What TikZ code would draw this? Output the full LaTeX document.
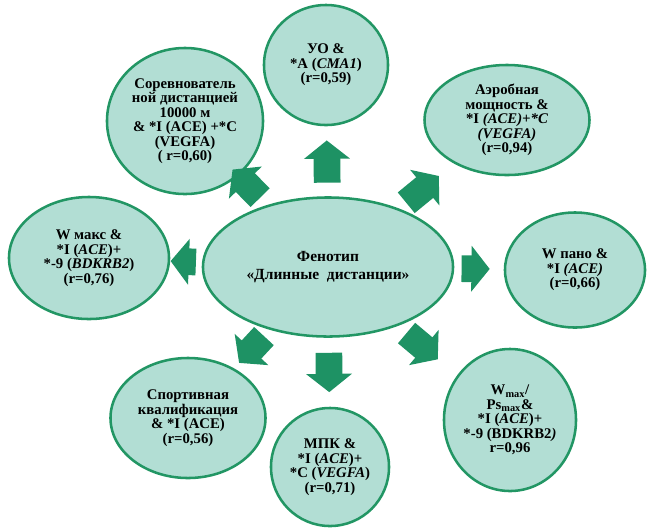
\documentclass[tikz,border=0pt]{standalone}
\usepackage{fontspec}
\setmainfont{Liberation Serif}
\usepackage{tikz}
\usetikzlibrary{shapes.geometric, arrows.meta, calc}
\definecolor{ovalfill}{RGB}{178,222,212}
\definecolor{ovalline}{RGB}{34,150,100}
\definecolor{arrowgreen}{RGB}{30,146,100}

\begin{document}
\begin{tikzpicture}[x=0.025cm, y=-0.025cm,
        oval/.style={ellipse, draw=ovalline, line width=1.8pt, fill=ovalfill, inner sep=0pt,
            align=center, font=\fontsize{10.5}{10.3}\selectfont\bfseries},
        blk/.style={draw=arrowgreen, line width=19pt, -{Triangle[width=32pt, length=13pt]}}]
        \useasboundingbox (0, 0) rectangle (651, 529);

        % phenotype in the middle
        \node[oval, minimum width=6.25cm, minimum height=3.475cm, font=\fontsize{11}{13}\selectfont\bfseries] (0) at (328, 267) {Фенотип\\«Длинные\ \ дистанции»};

        % traits around it
        \node[oval, minimum width=3.1cm, minimum height=3cm] (1) at (326, 65) {УО \&\\*A (\textit{CMA1})\\(r=0,59)};
        \node[oval, minimum width=3.9cm, minimum height=3.65cm] (2) at (185, 121) {Соревнователь\\ной дистанцией\\10000 м\\\& *I (ACE) +*C\\(VEGFA)\\( r=0,60)};
        \node[oval, minimum width=4.125cm, minimum height=2.75cm] (3) at (507, 120) {Аэробная\\мощность \&\\*I \textit{(ACE)+*C}\\\textit{(VEGFA)}\\(r=0,94)};
        \node[oval, minimum width=4cm, minimum height=3.05cm] (4) at (89, 258) {W макс \&\\*I (\textit{ACE})+\\*-9 (\textit{BDKRB2})\\(r=0,76)};
        \node[oval, minimum width=3.5cm, minimum height=2.875cm] (5) at (575, 270) {W пано \&\\*I \textit{(ACE)}\\(r=0,66)};
        \node[oval, minimum width=3.875cm, minimum height=3cm] (6) at (188, 418) {Спортивная\\квалификация\\\& *I (ACE)\\(r=0,56)};
        \node[oval, minimum width=2.95cm, minimum height=2.95cm] (7) at (330, 467) {МПК \&\\*I (\textit{ACE})+\\*C (\textit{VEGFA})\\(r=0,71)};
        \node[oval, minimum width=3.3cm, minimum height=3.55cm] (8) at (510, 420) {W\textsubscript{max}/\\Ps\textsubscript{max}\&\\*I (\textit{ACE})+\\*-9 (BDKRB2\textit{)}\\r=0,96};

        \draw[blk] ($(0)!60pt!(1)$) -- ($(0)!90pt!(1)$);
        \draw[blk] ($(0)!69pt!(2)$) -- ($(0)!97pt!(2)$);
        \draw[blk] ($(0)!72pt!(3)$) -- ($(0)!102pt!(3)$);
        \draw[blk] ($(0)!94pt!(4)$) -- ($(0)!112pt!(4)$);
        \draw[blk] ($(0)!95pt!(5)$) -- ($(0)!115pt!(5)$);
        \draw[blk] ($(0)!67pt!(6)$) -- ($(0)!93pt!(6)$);
        \draw[blk] ($(0)!61pt!(7)$) -- ($(0)!89pt!(7)$);
        \draw[blk] ($(0)!73pt!(8)$) -- ($(0)!102pt!(8)$);
    \end{tikzpicture}
\end{document}
